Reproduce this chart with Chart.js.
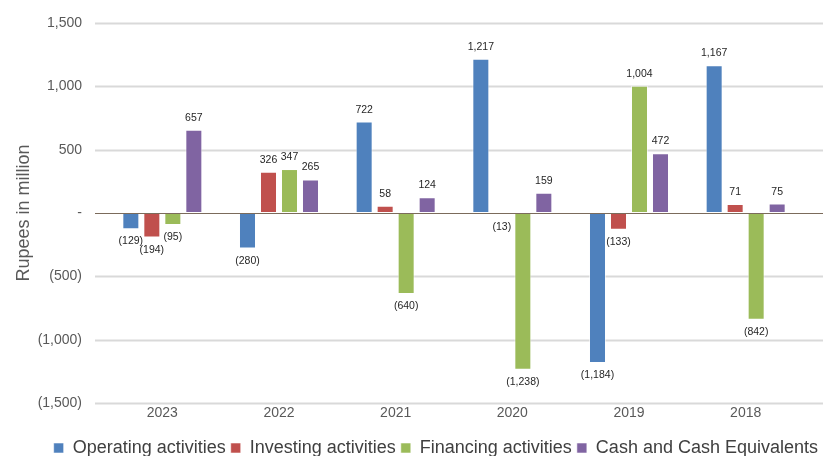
<!DOCTYPE html>
<html>
<head>
<meta charset="utf-8">
<script src="https://cdn.jsdelivr.net/npm/chart.js@4"></script>
<style>
  body { margin: 0; background: #fff; }
  #wrap { width: 823px; height: 456px; }
</style>
</head>
<body>
<div id="wrap"><canvas id="chart-cash-flow"></canvas></div>
<script>
const years = ["2023", "2022", "2021", "2020", "2019", "2018"];
const operating = [-129, -280, 722, 1217, -1184, 1167];
const investing = [-194, 326, 58, -13, -133, 71];
const financing = [-95, 347, -640, -1238, 1004, -842];
const cashEquiv = [657, 265, 124, 159, 472, 75];
const yTicks = [-1500, -1000, -500, 0, 500, 1000, 1500];

const FONT = "'Liberation Sans', Arial, sans-serif";

const fmt = (v) => {
    const s = Math.abs(v).toLocaleString("en-US");
    return v < 0 ? "(" + s + ")" : s;
};

// horizontal grid lines, a bit wider than the plot area (like the excel chart)
const wideGrid = {
    id: "wideGrid",
    beforeDatasetsDraw(chart) {
        const ctx = chart.ctx;
        const y = chart.scales.y;
        ctx.save();
        yTicks.forEach((t) => {
            if (t === 0) return;
            const py = Math.round(y.getPixelForValue(t)) + 0.5;
            ctx.strokeStyle = "#d9d9d9";
            ctx.lineWidth = 2;
            ctx.beginPath();
            ctx.moveTo(chart.chartArea.left - 9, py);
            ctx.lineTo(chart.width, py);
            ctx.stroke();
        });
        ctx.restore();
    },
    afterDatasetsDraw(chart) {
        const ctx = chart.ctx;
        const y = chart.scales.y;
        const py = Math.round(y.getPixelForValue(0)) + 0.5;
        ctx.save();
        ctx.strokeStyle = "#7b6b5b";
        ctx.lineWidth = 1;
        ctx.beginPath();
        ctx.moveTo(chart.chartArea.left - 9, py);
        ctx.lineTo(chart.width, py);
        ctx.stroke();
        ctx.restore();
    },
};

// value labels above / below each bar
const barLabels = {
    id: "barLabels",
    afterDatasetsDraw(chart) {
        const ctx = chart.ctx;
        ctx.save();
        ctx.font = "10.5px " + FONT;
        ctx.fillStyle = "#262626";
        ctx.textAlign = "center";
        chart.data.datasets.forEach((ds, i) => {
            const meta = chart.getDatasetMeta(i);
            meta.data.forEach((bar, j) => {
                const v = ds.data[j];
                if (v >= 0) {
                    ctx.textBaseline = "alphabetic";
                    ctx.fillText(fmt(v), bar.x, bar.y - 9);
                } else {
                    ctx.textBaseline = "top";
                    ctx.fillText(fmt(v), bar.x, bar.y + 7);
                }
            });
        });
        ctx.restore();
    },
};

const mkSet = (label, data, color) => ({
    label: label,
    data: data,
    backgroundColor: color,
    borderColor: "rgba(255,255,255,0.55)",
    borderWidth: 1,
    borderSkipped: false,
    categoryPercentage: 0.72,
    barPercentage: 0.81,
});

const dataCash = {
    labels: years,
    datasets: [
        mkSet("Operating activities", operating, "#4f81bd"),
        mkSet("Investing activities", investing, "#c0504d"),
        mkSet("Financing activities", financing, "#9bbb59"),
        mkSet("Cash and Cash Equivalents", cashEquiv, "#8064a2"),
    ],
};

const configCash = {
    type: "bar",
    data: dataCash,
    plugins: [wideGrid, barLabels],
    options: {
        responsive: true,
        maintainAspectRatio: false,
        animation: false,
        layout: { padding: { top: 23, right: 0, left: 9, bottom: -11 } },
        plugins: {
            legend: {
                position: "bottom",
                align: "end",
                labels: {
                    boxWidth: 10,
                    boxHeight: 10,
                    padding: 5,
                    color: "#404040",
                    font: { size: 18, family: FONT },
                },
            },
            tooltip: { enabled: false },
        },
        scales: {
            x: {
                grid: { display: false, drawTicks: false },
                border: { display: false },
                afterFit: (s) => {
                    s.height = 31;
                },
                ticks: {
                    color: "#595959",
                    font: { size: 14, family: FONT },
                    padding: 2,
                },
            },
            y: {
                min: -1500,
                max: 1500,
                border: { display: false },
                grid: { display: false, drawTicks: false },
                afterBuildTicks: (s) => {
                    s.ticks = yTicks.map((v) => ({ value: v }));
                },
                afterFit: (s) => {
                    s.width = 95;
                    // tick padding would otherwise push the plot top down
                    s.paddingTop = 0;
                    s.paddingBottom = 0;
                },
                ticks: {
                    padding: 22,
                    color: "#595959",
                    font: { size: 14, family: FONT },
                    callback: (v) => (v === 0 ? "-" : fmt(v)),
                },
                title: {
                    display: true,
                    text: "Rupees in million",
                    color: "#595959",
                    padding: { top: 4, bottom: 7 },
                    font: { size: 18, family: FONT },
                },
            },
            // empty right axis, keeps the bars off the right edge
            yRight: {
                position: "right",
                display: true,
                grid: { display: false, drawTicks: false },
                border: { display: false },
                ticks: { display: false },
                afterFit: (s) => {
                    s.width = 19;
                },
            },
        },
    },
};

new Chart(document.getElementById("chart-cash-flow"), configCash);
</script>
</body>
</html>
